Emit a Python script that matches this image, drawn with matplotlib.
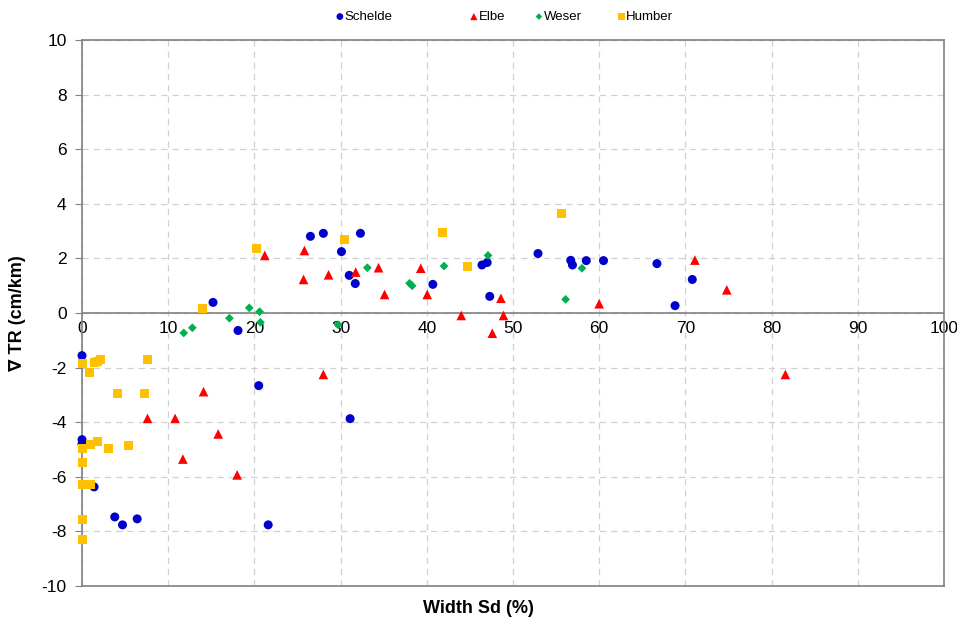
import matplotlib.pyplot as plt
import numpy as np

plt.rcParams["font.family"] = ["Liberation Sans", "DejaVu Sans"]
plt.rcParams["axes.unicode_minus"] = False

# Schelde (blue circles)
schelde_x = [0.0, 0.0, 0.0, 1.4, 3.8, 4.7, 6.4, 15.2, 18.1, 20.5, 21.6, 26.5, 28.0, 30.1,
             31.0, 31.7, 32.3, 31.1, 40.7, 46.4, 47.0, 47.3, 52.9, 56.7, 56.9, 58.5,
             60.5, 66.7, 68.8, 70.8]
schelde_y = [-1.56, -4.64, -4.8, -6.37, -7.47, -7.76, -7.54, 0.39, -0.64, -2.66, -7.76, 2.81,
             2.92, 2.25, 1.38, 1.08, 2.92, -3.87, 1.05, 1.76, 1.85, 0.61, 2.18, 1.93, 1.76,
             1.92, 1.92, 1.81, 0.27, 1.23]

# Elbe (red triangles)
elbe_x = [7.6, 10.8, 14.1, 15.8, 11.7, 18.0, 28.0, 21.2, 25.8, 25.7, 28.6, 31.75, 34.4,
          35.1, 39.3, 40.05, 44.0, 48.6, 48.9, 47.6, 60.0, 71.1, 74.8, 81.6]
elbe_y = [-3.86, -3.86, -2.88, -4.43, -5.35, -5.93, -2.25, 2.11, 2.29, 1.23, 1.40, 1.50,
          1.66, 0.68, 1.64, 0.68, -0.09, 0.54, -0.09, -0.74, 0.34, 1.94, 0.85, -2.25]

# Weser (green diamonds)
weser_x = [11.8, 12.8, 17.1, 19.4, 20.6, 20.7, 29.7, 33.1, 38.0, 38.3, 42.0, 47.1, 56.1, 58.0]
weser_y = [-0.73, -0.54, -0.19, 0.19, 0.05, -0.34, -0.43, 1.66, 1.09, 1.00, 1.72, 2.11,
           0.50, 1.64]

# Humber (yellow squares)
humber_x = [0.0, 0.9, 1.4, 1.8, 2.2, 7.6, 4.1, 7.3, 0.0, 0.95, 1.8, 3.1, 5.4, 0.0, 0.0,
            0.6, 0.95, 0.0, 0.0, 14.0, 20.2, 30.5, 41.8, 44.7, 55.6]
humber_y = [-1.84, -2.17, -1.83, -1.77, -1.70, -1.71, -2.93, -2.93, -4.98, -4.80, -4.70,
            -4.98, -4.85, -5.47, -6.29, -6.29, -6.29, -7.57, -8.31, 0.17, 2.37, 2.70, 2.94,
            1.71, 3.65]

SERIES = [
    ("Schelde", schelde_x, schelde_y, "o", "#0000CC", 42),
    ("Elbe", elbe_x, elbe_y, "^", "#FF0000", 48),
    ("Weser", weser_x, weser_y, "D", "#00B050", 20),
    ("Humber", humber_x, humber_y, "s", "#FFC000", 42),
]
# left edge of each legend entry (figure fraction), Excel spaces them unevenly
LEGEND_X = [0.351, 0.491, 0.559, 0.645]

fig = plt.figure(figsize=(9.57, 6.26), dpi=100)
ax = fig.add_axes([0.0857, 0.0639, 0.9007, 0.8721])

handles = []
for name, xs, ys, mk, col, s in SERIES:
    h = ax.scatter(xs, ys, marker=mk, s=s, color=col, edgecolors="none", label=name,
                   zorder=3, clip_on=False)
    handles.append(h)

ax.set_xlim(0, 100)
ax.set_ylim(-10, 10)
ax.set_yticks(np.arange(-10, 11, 2))
xticks = np.arange(0, 101, 10)
ax.set_xticks(xticks)
ax.tick_params(axis="y", labelsize=12.5, length=5, color="#808080", pad=6)
ax.tick_params(axis="x", labelbottom=False, length=0)
ax.grid(True, ls=(0, (5, 4)), color="#d0d0d0", lw=0.9)
ax.set_axisbelow(True)
for sp in ax.spines.values():
    sp.set_color("#808080")
    sp.set_linewidth(1.2)

# x axis line through y = 0 with its labels just below
ax.axhline(0, color="#808080", lw=1.2, zorder=2)
for xt in xticks:
    ax.text(xt, -0.28, f"{xt:g}", ha="center", va="top", fontsize=12.5, zorder=2)

fig.text(0.5, 0.015, "Width Sd (%)", ha="center", va="bottom", fontsize=13,
         fontweight="bold")
fig.text(0.018, 0.5, "∇ TR (cm/km)", ha="center", va="center", rotation=90,
         fontsize=13, fontweight="bold")

for h, lx in zip(handles, LEGEND_X):
    fig.legend(handles=[h], loc="center left", bbox_to_anchor=(lx, 0.973), frameon=False,
               markerscale=0.75, handletextpad=0.05, handlelength=0.6, borderpad=0,
               borderaxespad=0,
               prop={"family": ["Liberation Sans Narrow", "Liberation Sans"], "size": 9.5})

fig.savefig("out.png", dpi=100)
